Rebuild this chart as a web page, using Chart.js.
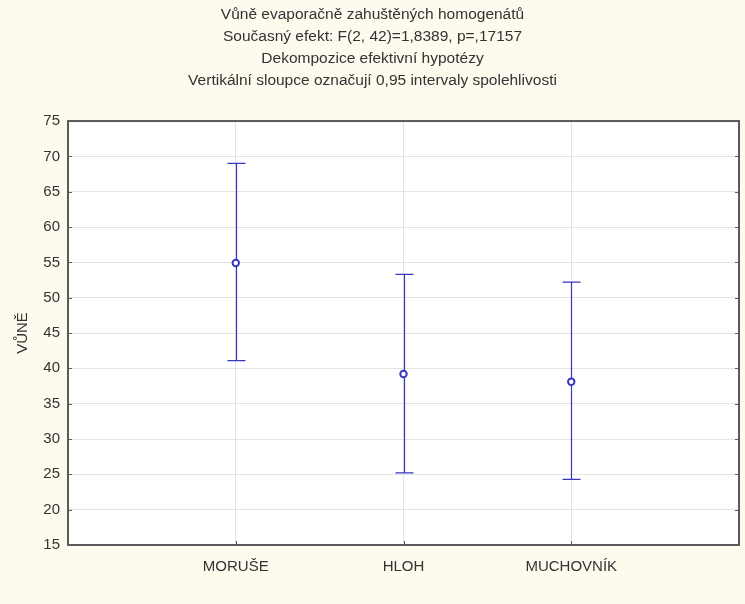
<!DOCTYPE html>
<html>
<head>
<meta charset="utf-8">
<script src="https://cdn.jsdelivr.net/npm/chart.js@4.4.1/dist/chart.umd.min.js"></script>
<style>
html,body{margin:0;padding:0;background:#fefaee;}
#wrap{width:745px;height:604px;}
</style>
</head>
<body>
<div id="wrap"><canvas id="c" width="745" height="604"></canvas></div>
<script>
const categories = ['MORUŠE', 'HLOH', 'MUCHOVNÍK'];
const means = [54.9, 39.2, 38.1];
const upper = [69.0, 53.3, 52.2];
const lower = [41.1, 25.2, 24.3];
const yTicks = [15, 20, 25, 30, 35, 40, 45, 50, 55, 60, 65, 70, 75];
const titleLines = [
  'Vůně evaporačně zahuštěných homogenátů',
  'Současný efekt: F(2, 42)=1,8389, p=,17157',
  'Dekompozice efektivní hypotézy',
  'Vertikální sloupce označují 0,95 intervaly spolehlivosti'
];
const yTitle = 'VŮNĚ';

const BLUE = '#3636c0';
const FONT = "'Liberation Sans', Arial, sans-serif";

const bgPlugin = {
  id: 'bg',
  beforeDraw(chart) {
    const {ctx, chartArea: a} = chart;
    ctx.save();
    ctx.fillStyle = '#fefaee';
    ctx.fillRect(0, 0, chart.width, chart.height);
    ctx.fillStyle = '#ffffff';
    ctx.fillRect(a.left, a.top, a.right - a.left, a.bottom - a.top);
    ctx.restore();
  }
};

const framePlugin = {
  id: 'frame',
  afterDraw(chart) {
    const {ctx, chartArea: a, scales} = chart;
    ctx.save();
    ctx.strokeStyle = '#5c5c5c';
    ctx.lineWidth = 1;
    yTicks.forEach(v => {
      const y = Math.round(scales.y.getPixelForValue(v)) + 0.5;
      ctx.beginPath();
      ctx.moveTo(a.left, y); ctx.lineTo(a.left + 4, y);
      ctx.moveTo(a.right, y); ctx.lineTo(a.right - 4, y);
      ctx.stroke();
    });
    categories.forEach((c, i) => {
      const x = Math.round(scales.x.getPixelForValue(i + 1)) + 0.5;
      ctx.beginPath();
      ctx.moveTo(x, a.bottom); ctx.lineTo(x, a.bottom - 4);
      ctx.stroke();
    });
    ctx.lineWidth = 2;
    ctx.strokeStyle = '#5a5a5a';
    ctx.strokeRect(a.left, a.top, a.right - a.left, a.bottom - a.top);
    ctx.restore();
  }
};

const errPlugin = {
  id: 'err',
  afterDatasetsDraw(chart) {
    const {ctx, scales} = chart;
    ctx.save();
    ctx.strokeStyle = BLUE;
    ctx.lineWidth = 1.2;
    categories.forEach((c, i) => {
      const x = Math.round(scales.x.getPixelForValue(i + 1)) + 0.5;
      const yt = scales.y.getPixelForValue(upper[i]);
      const yb = scales.y.getPixelForValue(lower[i]);
      const ym = scales.y.getPixelForValue(means[i]);
      ctx.beginPath();
      ctx.moveTo(x, yt); ctx.lineTo(x, ym - 3.5);
      ctx.moveTo(x, ym + 3.5); ctx.lineTo(x, yb);
      ctx.moveTo(x - 9, yt); ctx.lineTo(x + 9, yt);
      ctx.moveTo(x - 9, yb); ctx.lineTo(x + 9, yb);
      ctx.stroke();
    });
    ctx.restore();
  }
};

new Chart(document.getElementById('c'), {
  type: 'scatter',
  data: {
    datasets: [{
      data: means.map((m, i) => ({x: i + 1, y: m})),
      pointStyle: 'circle',
      pointRadius: 3.2,
      pointBorderWidth: 2,
      pointBorderColor: BLUE,
      pointBackgroundColor: '#ffffff',
      showLine: false
    }]
  },
  options: {
    responsive: false,
    animation: false,
    devicePixelRatio: 1,
    layout: {padding: {left: 0, right: 0, top: 0, bottom: 0}},
    plugins: {
      legend: {display: false},
      tooltip: {enabled: false},
      title: {
        display: true,
        text: titleLines,
        color: '#333333',
        font: {family: FONT, size: 15.5, weight: 'normal', lineHeight: 1.42},
        padding: {top: 4, bottom: 29}
      }
    },
    scales: {
      x: {
        type: 'linear',
        min: 0, max: 4,
        afterBuildTicks(s) { s.ticks = [0, 1, 2, 3, 4].map(v => ({value: v})); },
        afterFit(s) { s.height = 59; s.paddingLeft = 0; s.paddingRight = 0; },
        ticks: {
          callback: v => (v >= 1 && v <= 3 && Number.isInteger(v)) ? categories[v - 1] : '',
          color: '#333333',
          font: {family: FONT, size: 15},
          padding: 13,
          maxRotation: 0, autoSkip: false
        },
        grid: {
          color: ctx => (ctx.tick && ctx.tick.value >= 1 && ctx.tick.value <= 3) ? '#e4e4e4' : 'rgba(0,0,0,0)',
          drawTicks: false
        },
        border: {display: false}
      },
      y: {
        type: 'linear',
        min: 15, max: 75,
        afterBuildTicks(s) { s.ticks = yTicks.map(v => ({value: v})); },
        afterFit(s) { s.width = 68; },
        ticks: {
          color: '#333333',
          font: {family: FONT, size: 15},
          padding: 8
        },
        grid: {color: '#e4e4e4', drawTicks: false},
        border: {display: false},
        title: {
          display: true,
          text: yTitle,
          color: '#333333',
          font: {family: FONT, size: 15},
          padding: {top: 14, bottom: 0}
        }
      }
    }
  },
  plugins: [bgPlugin, errPlugin, framePlugin]
});
</script>
</body>
</html>
